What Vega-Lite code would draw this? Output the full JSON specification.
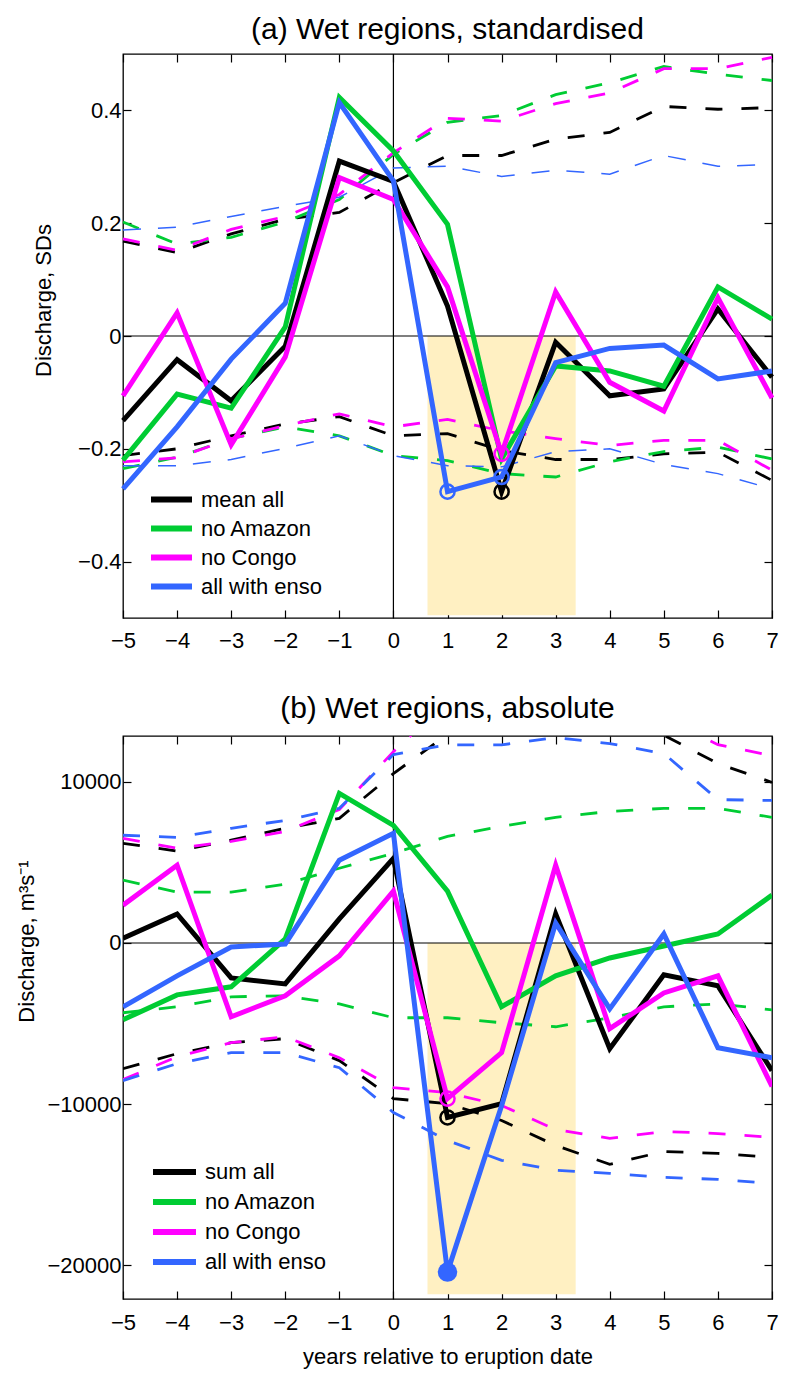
{
"$schema": "https://vega.github.io/schema/vega-lite/v6.json",
"padding": {"left": 15, "top": 14, "right": 28, "bottom": 5},
"config": {
  "font": "Liberation Sans",
  "view": {"stroke": "black", "strokeWidth": 1.3},
  "axis": {"labelFont": "Liberation Sans", "labelFontSize": 22, "labelColor": "black", "titleFont": "Liberation Sans", "titleFontSize": 22, "titleFontWeight": "normal", "titleColor": "black", "tickColor": "black", "tickWidth": 1.2, "grid": false, "domain": false, "labelFlush": false, "labelOverlap": false, "labelBound": false, "minExtent": 0},
  "title": {"font": "Liberation Sans", "fontSize": 30, "fontWeight": "normal", "color": "black"}
},
"datasets": {
  "A": [
    {"t":-5,"s":"mean all","k":"m","v":-0.150},{"t":-4,"s":"mean all","k":"m","v":-0.042},{"t":-3,"s":"mean all","k":"m","v":-0.115},{"t":-2,"s":"mean all","k":"m","v":-0.018},{"t":-1,"s":"mean all","k":"m","v":0.310},{"t":0,"s":"mean all","k":"m","v":0.274},{"t":1,"s":"mean all","k":"m","v":0.053},{"t":2,"s":"mean all","k":"m","v":-0.276},{"t":3,"s":"mean all","k":"m","v":-0.011},{"t":4,"s":"mean all","k":"m","v":-0.106},{"t":5,"s":"mean all","k":"m","v":-0.094},{"t":6,"s":"mean all","k":"m","v":0.048},{"t":7,"s":"mean all","k":"m","v":-0.073},
    {"t":-5,"s":"no Amazon","k":"m","v":-0.220},{"t":-4,"s":"no Amazon","k":"m","v":-0.103},{"t":-3,"s":"no Amazon","k":"m","v":-0.128},{"t":-2,"s":"no Amazon","k":"m","v":0.016},{"t":-1,"s":"no Amazon","k":"m","v":0.423},{"t":0,"s":"no Amazon","k":"m","v":0.328},{"t":1,"s":"no Amazon","k":"m","v":0.198},{"t":2,"s":"no Amazon","k":"m","v":-0.218},{"t":3,"s":"no Amazon","k":"m","v":-0.053},{"t":4,"s":"no Amazon","k":"m","v":-0.062},{"t":5,"s":"no Amazon","k":"m","v":-0.089},{"t":6,"s":"no Amazon","k":"m","v":0.087},{"t":7,"s":"no Amazon","k":"m","v":0.030},
    {"t":-5,"s":"no Congo","k":"m","v":-0.106},{"t":-4,"s":"no Congo","k":"m","v":0.041},{"t":-3,"s":"no Congo","k":"m","v":-0.193},{"t":-2,"s":"no Congo","k":"m","v":-0.037},{"t":-1,"s":"no Congo","k":"m","v":0.281},{"t":0,"s":"no Congo","k":"m","v":0.242},{"t":1,"s":"no Congo","k":"m","v":0.087},{"t":2,"s":"no Congo","k":"m","v":-0.209},{"t":3,"s":"no Congo","k":"m","v":0.078},{"t":4,"s":"no Congo","k":"m","v":-0.082},{"t":5,"s":"no Congo","k":"m","v":-0.133},{"t":6,"s":"no Congo","k":"m","v":0.068},{"t":7,"s":"no Congo","k":"m","v":-0.110},
    {"t":-5,"s":"all with enso","k":"m","v":-0.271},{"t":-4,"s":"all with enso","k":"m","v":-0.161},{"t":-3,"s":"all with enso","k":"m","v":-0.041},{"t":-2,"s":"all with enso","k":"m","v":0.058},{"t":-1,"s":"all with enso","k":"m","v":0.414},{"t":0,"s":"all with enso","k":"m","v":0.275},{"t":1,"s":"all with enso","k":"m","v":-0.276},{"t":2,"s":"all with enso","k":"m","v":-0.250},{"t":3,"s":"all with enso","k":"m","v":-0.047},{"t":4,"s":"all with enso","k":"m","v":-0.022},{"t":5,"s":"all with enso","k":"m","v":-0.016},{"t":6,"s":"all with enso","k":"m","v":-0.076},{"t":7,"s":"all with enso","k":"m","v":-0.062},
    {"t":-5,"s":"mean all","k":"u","v":0.168},{"t":-4,"s":"mean all","k":"u","v":0.148},{"t":-3,"s":"mean all","k":"u","v":0.181},{"t":-2,"s":"mean all","k":"u","v":0.207},{"t":-1,"s":"mean all","k":"u","v":0.219},{"t":0,"s":"mean all","k":"u","v":0.272},{"t":1,"s":"mean all","k":"u","v":0.320},{"t":2,"s":"mean all","k":"u","v":0.320},{"t":3,"s":"mean all","k":"u","v":0.349},{"t":4,"s":"mean all","k":"u","v":0.361},{"t":5,"s":"mean all","k":"u","v":0.407},{"t":6,"s":"mean all","k":"u","v":0.402},{"t":7,"s":"mean all","k":"u","v":0.405},
    {"t":-5,"s":"no Amazon","k":"u","v":0.202},{"t":-4,"s":"no Amazon","k":"u","v":0.163},{"t":-3,"s":"no Amazon","k":"u","v":0.175},{"t":-2,"s":"no Amazon","k":"u","v":0.202},{"t":-1,"s":"no Amazon","k":"u","v":0.242},{"t":0,"s":"no Amazon","k":"u","v":0.322},{"t":1,"s":"no Amazon","k":"u","v":0.379},{"t":2,"s":"no Amazon","k":"u","v":0.391},{"t":3,"s":"no Amazon","k":"u","v":0.428},{"t":4,"s":"no Amazon","k":"u","v":0.449},{"t":5,"s":"no Amazon","k":"u","v":0.478},{"t":6,"s":"no Amazon","k":"u","v":0.464},{"t":7,"s":"no Amazon","k":"u","v":0.453},
    {"t":-5,"s":"no Congo","k":"u","v":0.172},{"t":-4,"s":"no Congo","k":"u","v":0.152},{"t":-3,"s":"no Congo","k":"u","v":0.189},{"t":-2,"s":"no Congo","k":"u","v":0.212},{"t":-1,"s":"no Congo","k":"u","v":0.251},{"t":0,"s":"no Congo","k":"u","v":0.325},{"t":1,"s":"no Congo","k":"u","v":0.386},{"t":2,"s":"no Congo","k":"u","v":0.381},{"t":3,"s":"no Congo","k":"u","v":0.412},{"t":4,"s":"no Congo","k":"u","v":0.431},{"t":5,"s":"no Congo","k":"u","v":0.474},{"t":6,"s":"no Congo","k":"u","v":0.474},{"t":7,"s":"no Congo","k":"u","v":0.494},
    {"t":-5,"s":"all with enso","k":"u","v":0.188},{"t":-4,"s":"all with enso","k":"u","v":0.193},{"t":-3,"s":"all with enso","k":"u","v":0.212},{"t":-2,"s":"all with enso","k":"u","v":0.230},{"t":-1,"s":"all with enso","k":"u","v":0.246},{"t":0,"s":"all with enso","k":"u","v":0.298},{"t":1,"s":"all with enso","k":"u","v":0.301},{"t":2,"s":"all with enso","k":"u","v":0.283},{"t":3,"s":"all with enso","k":"u","v":0.294},{"t":4,"s":"all with enso","k":"u","v":0.287},{"t":5,"s":"all with enso","k":"u","v":0.320},{"t":6,"s":"all with enso","k":"u","v":0.301},{"t":7,"s":"all with enso","k":"u","v":0.304},
    {"t":-5,"s":"mean all","k":"l","v":-0.212},{"t":-4,"s":"mean all","k":"l","v":-0.200},{"t":-3,"s":"mean all","k":"l","v":-0.177},{"t":-2,"s":"mean all","k":"l","v":-0.156},{"t":-1,"s":"mean all","k":"l","v":-0.143},{"t":0,"s":"mean all","k":"l","v":-0.177},{"t":1,"s":"mean all","k":"l","v":-0.173},{"t":2,"s":"mean all","k":"l","v":-0.203},{"t":3,"s":"mean all","k":"l","v":-0.219},{"t":4,"s":"mean all","k":"l","v":-0.219},{"t":5,"s":"mean all","k":"l","v":-0.209},{"t":6,"s":"mean all","k":"l","v":-0.206},{"t":7,"s":"mean all","k":"l","v":-0.256},
    {"t":-5,"s":"no Amazon","k":"l","v":-0.235},{"t":-4,"s":"no Amazon","k":"l","v":-0.215},{"t":-3,"s":"no Amazon","k":"l","v":-0.182},{"t":-2,"s":"no Amazon","k":"l","v":-0.161},{"t":-1,"s":"no Amazon","k":"l","v":-0.177},{"t":0,"s":"no Amazon","k":"l","v":-0.212},{"t":1,"s":"no Amazon","k":"l","v":-0.221},{"t":2,"s":"no Amazon","k":"l","v":-0.244},{"t":3,"s":"no Amazon","k":"l","v":-0.250},{"t":4,"s":"no Amazon","k":"l","v":-0.223},{"t":5,"s":"no Amazon","k":"l","v":-0.205},{"t":6,"s":"no Amazon","k":"l","v":-0.197},{"t":7,"s":"no Amazon","k":"l","v":-0.218},
    {"t":-5,"s":"no Congo","k":"l","v":-0.223},{"t":-4,"s":"no Congo","k":"l","v":-0.216},{"t":-3,"s":"no Congo","k":"l","v":-0.182},{"t":-2,"s":"no Congo","k":"l","v":-0.159},{"t":-1,"s":"no Congo","k":"l","v":-0.138},{"t":0,"s":"no Congo","k":"l","v":-0.161},{"t":1,"s":"no Congo","k":"l","v":-0.148},{"t":2,"s":"no Congo","k":"l","v":-0.168},{"t":3,"s":"no Congo","k":"l","v":-0.182},{"t":4,"s":"no Congo","k":"l","v":-0.194},{"t":5,"s":"no Congo","k":"l","v":-0.185},{"t":6,"s":"no Congo","k":"l","v":-0.185},{"t":7,"s":"no Congo","k":"l","v":-0.238},
    {"t":-5,"s":"all with enso","k":"l","v":-0.230},{"t":-4,"s":"all with enso","k":"l","v":-0.230},{"t":-3,"s":"all with enso","k":"l","v":-0.219},{"t":-2,"s":"all with enso","k":"l","v":-0.199},{"t":-1,"s":"all with enso","k":"l","v":-0.177},{"t":0,"s":"all with enso","k":"l","v":-0.212},{"t":1,"s":"all with enso","k":"l","v":-0.230},{"t":2,"s":"all with enso","k":"l","v":-0.232},{"t":3,"s":"all with enso","k":"l","v":-0.205},{"t":4,"s":"all with enso","k":"l","v":-0.200},{"t":5,"s":"all with enso","k":"l","v":-0.228},{"t":6,"s":"all with enso","k":"l","v":-0.244},{"t":7,"s":"all with enso","k":"l","v":-0.271}
  ],
  "Ao": [
    {"t":2,"s":"mean all","v":-0.276},{"t":2,"s":"no Congo","v":-0.209},{"t":1,"s":"all with enso","v":-0.276},{"t":2,"s":"all with enso","v":-0.250}
  ],
  "B": [
    {"t":-5,"s":"sum all","k":"m","v":300},{"t":-4,"s":"sum all","k":"m","v":1800},{"t":-3,"s":"sum all","k":"m","v":-2170},{"t":-2,"s":"sum all","k":"m","v":-2540},{"t":-1,"s":"sum all","k":"m","v":1500},{"t":0,"s":"sum all","k":"m","v":5260},{"t":1,"s":"sum all","k":"m","v":-10830},{"t":2,"s":"sum all","k":"m","v":-9970},{"t":3,"s":"sum all","k":"m","v":1800},{"t":4,"s":"sum all","k":"m","v":-6560},{"t":5,"s":"sum all","k":"m","v":-1980},{"t":6,"s":"sum all","k":"m","v":-2660},{"t":7,"s":"sum all","k":"m","v":-7920},
    {"t":-5,"s":"no Amazon","k":"m","v":-4770},{"t":-4,"s":"no Amazon","k":"m","v":-3220},{"t":-3,"s":"no Amazon","k":"m","v":-2720},{"t":-2,"s":"no Amazon","k":"m","v":250},{"t":-1,"s":"no Amazon","k":"m","v":9290},{"t":0,"s":"no Amazon","k":"m","v":7300},{"t":1,"s":"no Amazon","k":"m","v":3220},{"t":2,"s":"no Amazon","k":"m","v":-3960},{"t":3,"s":"no Amazon","k":"m","v":-2040},{"t":4,"s":"no Amazon","k":"m","v":-930},{"t":5,"s":"no Amazon","k":"m","v":-190},{"t":6,"s":"no Amazon","k":"m","v":560},{"t":7,"s":"no Amazon","k":"m","v":2970},
    {"t":-5,"s":"no Congo","k":"m","v":2350},{"t":-4,"s":"no Congo","k":"m","v":4830},{"t":-3,"s":"no Congo","k":"m","v":-4580},{"t":-2,"s":"no Congo","k":"m","v":-3280},{"t":-1,"s":"no Congo","k":"m","v":-800},{"t":0,"s":"no Congo","k":"m","v":3220},{"t":1,"s":"no Congo","k":"m","v":-9660},{"t":2,"s":"no Congo","k":"m","v":-6810},{"t":3,"s":"no Congo","k":"m","v":4830},{"t":4,"s":"no Congo","k":"m","v":-5320},{"t":5,"s":"no Congo","k":"m","v":-3100},{"t":6,"s":"no Congo","k":"m","v":-2040},{"t":7,"s":"no Congo","k":"m","v":-8910},
    {"t":-5,"s":"all with enso","k":"m","v":-3960},{"t":-4,"s":"all with enso","k":"m","v":-2040},{"t":-3,"s":"all with enso","k":"m","v":-250},{"t":-2,"s":"all with enso","k":"m","v":-60},{"t":-1,"s":"all with enso","k":"m","v":5140},{"t":0,"s":"all with enso","k":"m","v":6810},{"t":1,"s":"all with enso","k":"m","v":-20430},{"t":2,"s":"all with enso","k":"m","v":-10100},{"t":3,"s":"all with enso","k":"m","v":1240},{"t":4,"s":"all with enso","k":"m","v":-4090},{"t":5,"s":"all with enso","k":"m","v":560},{"t":6,"s":"all with enso","k":"m","v":-6500},{"t":7,"s":"all with enso","k":"m","v":-7120},
    {"t":-5,"s":"sum all","k":"u","v":6190},{"t":-4,"s":"sum all","k":"u","v":5700},{"t":-3,"s":"sum all","k":"u","v":6380},{"t":-2,"s":"sum all","k":"u","v":7120},{"t":-1,"s":"sum all","k":"u","v":7740},{"t":0,"s":"sum all","k":"u","v":10520},{"t":1,"s":"sum all","k":"u","v":12950},{"t":2,"s":"sum all","k":"u","v":13100},{"t":3,"s":"sum all","k":"u","v":13300},{"t":4,"s":"sum all","k":"u","v":13100},{"t":5,"s":"sum all","k":"u","v":12900},{"t":6,"s":"sum all","k":"u","v":11140},{"t":7,"s":"sum all","k":"u","v":9970},
    {"t":-5,"s":"no Amazon","k":"u","v":3900},{"t":-4,"s":"no Amazon","k":"u","v":3160},{"t":-3,"s":"no Amazon","k":"u","v":3160},{"t":-2,"s":"no Amazon","k":"u","v":3650},{"t":-1,"s":"no Amazon","k":"u","v":4640},{"t":0,"s":"no Amazon","k":"u","v":5570},{"t":1,"s":"no Amazon","k":"u","v":6620},{"t":2,"s":"no Amazon","k":"u","v":7240},{"t":3,"s":"no Amazon","k":"u","v":7800},{"t":4,"s":"no Amazon","k":"u","v":8170},{"t":5,"s":"no Amazon","k":"u","v":8360},{"t":6,"s":"no Amazon","k":"u","v":8360},{"t":7,"s":"no Amazon","k":"u","v":7800},
    {"t":-5,"s":"no Congo","k":"u","v":6500},{"t":-4,"s":"no Congo","k":"u","v":5880},{"t":-3,"s":"no Congo","k":"u","v":6310},{"t":-2,"s":"no Congo","k":"u","v":6930},{"t":-1,"s":"no Congo","k":"u","v":8290},{"t":0,"s":"no Congo","k":"u","v":11880},{"t":1,"s":"no Congo","k":"u","v":15000},{"t":2,"s":"no Congo","k":"u","v":15500},{"t":3,"s":"no Congo","k":"u","v":15500},{"t":4,"s":"no Congo","k":"u","v":15000},{"t":5,"s":"no Congo","k":"u","v":14000},{"t":6,"s":"no Congo","k":"u","v":12310},{"t":7,"s":"no Congo","k":"u","v":11630},
    {"t":-5,"s":"all with enso","k":"u","v":6690},{"t":-4,"s":"all with enso","k":"u","v":6560},{"t":-3,"s":"all with enso","k":"u","v":7120},{"t":-2,"s":"all with enso","k":"u","v":7610},{"t":-1,"s":"all with enso","k":"u","v":8360},{"t":0,"s":"all with enso","k":"u","v":11700},{"t":1,"s":"all with enso","k":"u","v":12300},{"t":2,"s":"all with enso","k":"u","v":12300},{"t":3,"s":"all with enso","k":"u","v":12750},{"t":4,"s":"all with enso","k":"u","v":12380},{"t":5,"s":"all with enso","k":"u","v":11760},{"t":6,"s":"all with enso","k":"u","v":8900},{"t":7,"s":"all with enso","k":"u","v":8850},
    {"t":-5,"s":"sum all","k":"l","v":-7800},{"t":-4,"s":"sum all","k":"l","v":-6870},{"t":-3,"s":"sum all","k":"l","v":-6190},{"t":-2,"s":"sum all","k":"l","v":-5940},{"t":-1,"s":"sum all","k":"l","v":-7300},{"t":0,"s":"sum all","k":"l","v":-9660},{"t":1,"s":"sum all","k":"l","v":-9970},{"t":2,"s":"sum all","k":"l","v":-11020},{"t":3,"s":"sum all","k":"l","v":-12570},{"t":4,"s":"sum all","k":"l","v":-13740},{"t":5,"s":"sum all","k":"l","v":-12940},{"t":6,"s":"sum all","k":"l","v":-13060},{"t":7,"s":"sum all","k":"l","v":-13310},
    {"t":-5,"s":"no Amazon","k":"l","v":-4330},{"t":-4,"s":"no Amazon","k":"l","v":-3960},{"t":-3,"s":"no Amazon","k":"l","v":-3340},{"t":-2,"s":"no Amazon","k":"l","v":-3280},{"t":-1,"s":"no Amazon","k":"l","v":-3780},{"t":0,"s":"no Amazon","k":"l","v":-4640},{"t":1,"s":"no Amazon","k":"l","v":-4640},{"t":2,"s":"no Amazon","k":"l","v":-4950},{"t":3,"s":"no Amazon","k":"l","v":-5200},{"t":4,"s":"no Amazon","k":"l","v":-4640},{"t":5,"s":"no Amazon","k":"l","v":-3960},{"t":6,"s":"no Amazon","k":"l","v":-3780},{"t":7,"s":"no Amazon","k":"l","v":-4150},
    {"t":-5,"s":"no Congo","k":"l","v":-8480},{"t":-4,"s":"no Congo","k":"l","v":-7060},{"t":-3,"s":"no Congo","k":"l","v":-6190},{"t":-2,"s":"no Congo","k":"l","v":-5820},{"t":-1,"s":"no Congo","k":"l","v":-7120},{"t":0,"s":"no Congo","k":"l","v":-8980},{"t":1,"s":"no Congo","k":"l","v":-9290},{"t":2,"s":"no Congo","k":"l","v":-10090},{"t":3,"s":"no Congo","k":"l","v":-11580},{"t":4,"s":"no Congo","k":"l","v":-12130},{"t":5,"s":"no Congo","k":"l","v":-11700},{"t":6,"s":"no Congo","k":"l","v":-11830},{"t":7,"s":"no Congo","k":"l","v":-12070},
    {"t":-5,"s":"all with enso","k":"l","v":-8540},{"t":-4,"s":"all with enso","k":"l","v":-7490},{"t":-3,"s":"all with enso","k":"l","v":-6810},{"t":-2,"s":"all with enso","k":"l","v":-6810},{"t":-1,"s":"all with enso","k":"l","v":-7740},{"t":0,"s":"all with enso","k":"l","v":-10520},{"t":1,"s":"all with enso","k":"l","v":-12260},{"t":2,"s":"all with enso","k":"l","v":-13490},{"t":3,"s":"all with enso","k":"l","v":-14110},{"t":4,"s":"all with enso","k":"l","v":-14300},{"t":5,"s":"all with enso","k":"l","v":-14550},{"t":6,"s":"all with enso","k":"l","v":-14670},{"t":7,"s":"all with enso","k":"l","v":-14920}
  ],
  "Bo": [
    {"t":1,"s":"sum all","v":-10830},{"t":1,"s":"no Congo","v":-9660}
  ],
  "Bf": [
    {"t":1,"s":"all with enso","v":-20430}
  ]
},
"spacing": 41,
"resolve": {"scale": {"color": "independent", "x": "independent", "y": "independent"}, "legend": {"color": "independent"}},
"vconcat": [
  {
    "width": 649, "height": 564,
    "title": {"text": "(a) Wet regions, standardised", "offset": -17, "baseline": "alphabetic", "frame": "group"},
    "layer": [
      {"data": {"values": [{}]}, "mark": {"type": "rect", "color": "#FFF0C2"},
       "encoding": {"x": {"datum": 0.63, "type": "quantitative", "scale": {"domain": [-5, 7], "nice": false, "zero": false}, "axis": null}, "x2": {"datum": 3.37},
                    "y": {"datum": 0, "type": "quantitative", "scale": {"domain": [-0.5, 0.5], "nice": false, "zero": false}, "axis": null}, "y2": {"datum": -0.495}}},
      {"data": {"values": [{}]}, "mark": {"type": "rule", "color": "black", "strokeWidth": 1.2},
       "encoding": {"y": {"datum": 0, "type": "quantitative", "scale": {"domain": [-0.5, 0.5], "nice": false, "zero": false}, "axis": null}}},
      {"data": {"values": [{}]}, "mark": {"type": "rule", "color": "black", "strokeWidth": 1.2},
       "encoding": {"x": {"datum": 0, "type": "quantitative", "scale": {"domain": [-5, 7], "nice": false, "zero": false}, "axis": null}}},
      {"data": {"name": "A"}, "transform": [{"filter": "datum.k != 'm' && datum.s != 'all with enso'"}],
       "mark": {"type": "line", "strokeWidth": 2.8, "strokeDash": [17, 19]},
       "encoding": {
         "x": {"field": "t", "type": "quantitative", "scale": {"domain": [-5, 7], "nice": false, "zero": false}, "axis": {"orient": "top", "values": [-5,-4,-3,-2,-1,0,1,2,3,4,5,6,7], "labels": false, "title": null, "tickSize": -8, "minExtent": 0, "maxExtent": 0}},
         "y": {"field": "v", "type": "quantitative", "scale": {"domain": [-0.5, 0.5], "nice": false, "zero": false}, "axis": {"orient": "right", "values": [-0.4,-0.2,0,0.2,0.4], "labels": false, "title": null, "tickSize": -8, "minExtent": 0, "maxExtent": 0}},
         "color": {"field": "s", "type": "nominal", "scale": {"domain": ["mean all", "no Amazon", "no Congo", "all with enso"], "range": ["#000000", "#00CC33", "#FF00FF", "#3366FF"]}, "legend": null},
         "detail": {"field": "k"}}},
      {"data": {"name": "A"}, "transform": [{"filter": "datum.k != 'm' && datum.s == 'all with enso'"}],
       "mark": {"type": "line", "strokeWidth": 1.5, "strokeDash": [18, 17]},
       "encoding": {
         "x": {"field": "t", "type": "quantitative", "scale": {"domain": [-5, 7], "nice": false, "zero": false}, "axis": null},
         "y": {"field": "v", "type": "quantitative", "scale": {"domain": [-0.5, 0.5], "nice": false, "zero": false}, "axis": null},
         "color": {"field": "s", "type": "nominal", "scale": {"domain": ["mean all", "no Amazon", "no Congo", "all with enso"], "range": ["#000000", "#00CC33", "#FF00FF", "#3366FF"]}, "legend": null},
         "detail": {"field": "k"}}},
      {"data": {"name": "A"}, "transform": [{"filter": "datum.k == 'm'"}],
       "mark": {"type": "line", "strokeWidth": 5},
       "encoding": {
         "x": {"field": "t", "type": "quantitative", "scale": {"domain": [-5, 7], "nice": false, "zero": false}, "axis": {"orient": "bottom", "values": [-5,-4,-3,-2,-1,0,1,2,3,4,5,6,7], "format": "d", "title": null, "tickSize": -8, "labelPadding": 20}},
         "y": {"field": "v", "type": "quantitative", "scale": {"domain": [-0.5, 0.5], "nice": false, "zero": false}, "axis": {"orient": "left", "values": [-0.4,-0.2,0,0.2,0.4], "format": "~g", "title": "Discharge, SDs", "tickSize": -8, "labelPadding": 10, "titlePadding": 22, "titleY": 246}},
         "color": {"field": "s", "type": "nominal", "scale": {"domain": ["mean all", "no Amazon", "no Congo", "all with enso"], "range": ["#000000", "#00CC33", "#FF00FF", "#3366FF"]},
                   "legend": {"orient": "none", "legendX": 25, "legendY": 432, "title": null, "symbolType": "stroke", "symbolSize": 1681, "symbolStrokeWidth": 6, "clipHeight": 27, "labelFont": "Liberation Sans", "labelFontSize": 22, "labelColor": "black", "labelOffset": 6, "rowPadding": 2, "padding": 0}}}},
      {"data": {"name": "Ao"},
       "mark": {"type": "point", "shape": "circle", "filled": false, "size": 200, "strokeWidth": 2.5, "opacity": 1},
       "encoding": {
         "x": {"field": "t", "type": "quantitative", "scale": {"domain": [-5, 7], "nice": false, "zero": false}, "axis": null},
         "y": {"field": "v", "type": "quantitative", "scale": {"domain": [-0.5, 0.5], "nice": false, "zero": false}, "axis": null},
         "color": {"field": "s", "type": "nominal", "scale": {"domain": ["mean all", "no Amazon", "no Congo", "all with enso"], "range": ["#000000", "#00CC33", "#FF00FF", "#3366FF"]}, "legend": null}}}
    ],
    "resolve": {"scale": {"color": "independent"}, "axis": {"x": "independent", "y": "independent"}}
  },
  {
    "width": 649, "height": 563,
    "title": {"text": "(b) Wet regions, absolute", "offset": -13, "baseline": "alphabetic", "frame": "group"},
    "layer": [
      {"data": {"values": [{}]}, "mark": {"type": "rect", "color": "#FFF0C2"},
       "encoding": {"x": {"datum": 0.63, "type": "quantitative", "scale": {"domain": [-5, 7], "nice": false, "zero": false}, "axis": null}, "x2": {"datum": 3.37},
                    "y": {"datum": 0, "type": "quantitative", "scale": {"domain": [-22100, 12850], "nice": false, "zero": false}, "axis": null}, "y2": {"datum": -21800}}},
      {"data": {"values": [{}]}, "mark": {"type": "rule", "color": "black", "strokeWidth": 1.2},
       "encoding": {"y": {"datum": 0, "type": "quantitative", "scale": {"domain": [-22100, 12850], "nice": false, "zero": false}, "axis": null}}},
      {"data": {"values": [{}]}, "mark": {"type": "rule", "color": "black", "strokeWidth": 1.2},
       "encoding": {"x": {"datum": 0, "type": "quantitative", "scale": {"domain": [-5, 7], "nice": false, "zero": false}, "axis": null}}},
      {"data": {"name": "B"}, "transform": [{"filter": "datum.k != 'm'"}],
       "mark": {"type": "line", "strokeWidth": 2.8, "strokeDash": [17, 19], "clip": true},
       "encoding": {
         "x": {"field": "t", "type": "quantitative", "scale": {"domain": [-5, 7], "nice": false, "zero": false}, "axis": {"orient": "top", "values": [-5,-4,-3,-2,-1,0,1,2,3,4,5,6,7], "labels": false, "title": null, "tickSize": -8, "minExtent": 0, "maxExtent": 0}},
         "y": {"field": "v", "type": "quantitative", "scale": {"domain": [-22100, 12850], "nice": false, "zero": false}, "axis": {"orient": "right", "values": [-20000,-10000,0,10000], "labels": false, "title": null, "tickSize": -8, "minExtent": 0, "maxExtent": 0}},
         "color": {"field": "s", "type": "nominal", "scale": {"domain": ["sum all", "no Amazon", "no Congo", "all with enso"], "range": ["#000000", "#00CC33", "#FF00FF", "#3366FF"]}, "legend": null},
         "detail": {"field": "k"}}},
      {"data": {"name": "B"}, "transform": [{"filter": "datum.k == 'm'"}],
       "mark": {"type": "line", "strokeWidth": 5, "clip": true},
       "encoding": {
         "x": {"field": "t", "type": "quantitative", "scale": {"domain": [-5, 7], "nice": false, "zero": false}, "axis": {"orient": "bottom", "values": [-5,-4,-3,-2,-1,0,1,2,3,4,5,6,7], "format": "d", "title": "years relative to eruption date", "tickSize": -8, "labelPadding": 21, "titlePadding": 13}},
         "y": {"field": "v", "type": "quantitative", "scale": {"domain": [-22100, 12850], "nice": false, "zero": false}, "axis": {"orient": "left", "values": [-20000,-10000,0,10000], "format": "d", "title": "Discharge, m³s⁻¹", "tickSize": -8, "labelPadding": 10, "titlePadding": 8, "titleY": 205}},
         "color": {"field": "s", "type": "nominal", "scale": {"domain": ["sum all", "no Amazon", "no Congo", "all with enso"], "range": ["#000000", "#00CC33", "#FF00FF", "#3366FF"]},
                   "legend": {"orient": "none", "legendX": 27, "legendY": 422, "title": null, "symbolType": "stroke", "symbolSize": 1849, "symbolStrokeWidth": 6, "clipHeight": 28, "labelFont": "Liberation Sans", "labelFontSize": 22, "labelColor": "black", "labelOffset": 6, "rowPadding": 2, "padding": 0}}}},
      {"data": {"name": "Bo"},
       "mark": {"type": "point", "shape": "circle", "filled": false, "size": 200, "strokeWidth": 2.5, "opacity": 1},
       "encoding": {
         "x": {"field": "t", "type": "quantitative", "scale": {"domain": [-5, 7], "nice": false, "zero": false}, "axis": null},
         "y": {"field": "v", "type": "quantitative", "scale": {"domain": [-22100, 12850], "nice": false, "zero": false}, "axis": null},
         "color": {"field": "s", "type": "nominal", "scale": {"domain": ["sum all", "no Amazon", "no Congo", "all with enso"], "range": ["#000000", "#00CC33", "#FF00FF", "#3366FF"]}, "legend": null}}},
      {"data": {"name": "Bf"},
       "mark": {"type": "point", "shape": "circle", "filled": true, "size": 380, "opacity": 1},
       "encoding": {
         "x": {"field": "t", "type": "quantitative", "scale": {"domain": [-5, 7], "nice": false, "zero": false}, "axis": null},
         "y": {"field": "v", "type": "quantitative", "scale": {"domain": [-22100, 12850], "nice": false, "zero": false}, "axis": null},
         "color": {"field": "s", "type": "nominal", "scale": {"domain": ["sum all", "no Amazon", "no Congo", "all with enso"], "range": ["#000000", "#00CC33", "#FF00FF", "#3366FF"]}, "legend": null}}}
    ],
    "resolve": {"scale": {"color": "independent"}, "axis": {"x": "independent", "y": "independent"}}
  }
]
}
